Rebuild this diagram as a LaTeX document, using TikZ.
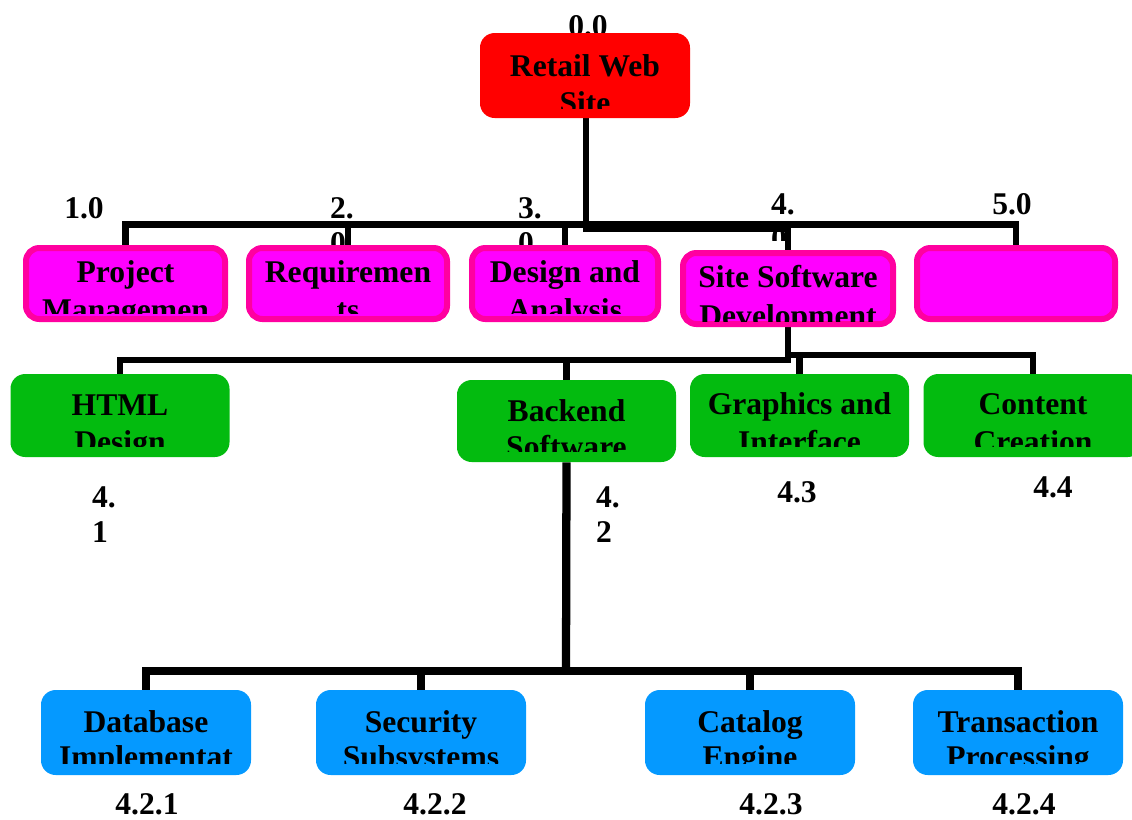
\documentclass[tikz,border=0pt]{standalone}
\usepackage{fontspec}
\setmainfont{Liberation Serif}
\usetikzlibrary{calc}

\definecolor{rootred}{RGB}{255,0,0}
\definecolor{wbsmagenta}{RGB}{255,0,255}
\definecolor{wbspink}{RGB}{255,0,160}
\definecolor{wbsgreen}{RGB}{3,187,15}
\definecolor{wbsblue}{RGB}{5,153,255}

\pgfdeclarelayer{numbers}
\pgfdeclarelayer{links}
\pgfsetlayers{numbers,links,main}

\newcommand{\wbspx}{0.75pt}
% box text (two lines), cut off above the bottom of the box
% [line skip]{box}{drop to last baseline}{cut above bottom}{text}
\newcommand{\boxtext}[5][26.25pt]{%
  \begin{scope}
    \clip (#2.north west) rectangle ($(#2.south east)+(0,-#4)$);
    \node[wbstext, font=\fontsize{23.7}{#1}\selectfont\bfseries]
      at ($(#2.north)+(0,#3)$) {#5};
  \end{scope}}

\begin{document}
\begin{tikzpicture}[x=0.75pt, y=-0.75pt,
    wbsfont/.style={font=\fontsize{23.7}{26.25}\selectfont\bfseries},
    wbstext/.style={wbsfont, align=center, anchor=base, inner sep=0pt},
    wbsnum/.style={wbsfont, align=left, anchor=base, inner sep=0pt},
    wbsbox/.style={inner sep=0pt, rounded corners=11pt},
    rootbox/.style={wbsbox, fill=rootred, minimum width=210*\wbspx, minimum height=85*\wbspx},
    lvlone/.style={wbsbox, rounded corners=10pt, fill=wbsmagenta, draw=wbspink, line width=4.5pt, minimum height=71*\wbspx},
    lvltwo/.style={wbsbox, fill=wbsgreen, minimum width=219*\wbspx},
    lvlthree/.style={wbsbox, fill=wbsblue, minimum width=210*\wbspx, minimum height=85*\wbspx},
    link/.style={line width=4.7pt, black}]
  \useasboundingbox (0,0) rectangle (1132,819);

  % Top box
  \node[rootbox] (root) at (585,75.5) {};
  \boxtext[27.75pt]{root}{81}{10}{Retail Web\\Site}

  % Level 1
  \node[lvlone, minimum width=199*\wbspx] (pm) at (125.5,283.5) {};
  \node[lvlone, minimum width=198*\wbspx] (req) at (348,283.5) {};
  \node[lvlone, minimum width=186*\wbspx] (des) at (565,283.5) {};
  \node[lvlone, minimum width=210*\wbspx] (ssd) at (788,288.5) {};
  \node[lvlone, minimum width=198*\wbspx] (emp) at (1016,283.5) {};
  \boxtext[28.5pt]{pm}{75}{9}{Project\\Managemen}
  \boxtext[28.5pt]{req}{75}{9}{Requiremen\\ts}
  \boxtext[28.5pt]{des}{75}{9}{Design and\\Analysis}
  \boxtext[29.25pt]{ssd}{76}{6}{Site Software\\Development}

  % Level 2
  \node[lvltwo, minimum height=83*\wbspx] (html) at (120,415.5) {};
  \node[lvltwo, minimum height=82*\wbspx] (back) at (566.5,421) {};
  \node[lvltwo, minimum height=83*\wbspx] (gfx) at (799.5,415.5) {};
  \node[lvltwo, minimum height=83*\wbspx] (cont) at (1033,415.5) {};
  \boxtext[27.75pt]{html}{79}{11}{HTML\\Design}
  \boxtext[27pt]{back}{78}{11}{Backend\\Software}
  \boxtext[28.5pt]{gfx}{79}{11}{Graphics and\\Interface}
  \boxtext[28.5pt]{cont}{79}{11}{Content\\Creation}

  % Level 3
  \node[lvlthree] (db) at (146,732.5) {};
  \node[lvlthree] (sec) at (421,732.5) {};
  \node[lvlthree] (cat) at (750,732.5) {};
  \node[lvlthree] (trn) at (1018,732.5) {};
  \boxtext{db}{78}{12}{Database\\Implementat}
  \boxtext{sec}{78}{12}{Security\\Subsystems}
  \boxtext{cat}{78}{12}{Catalog\\Engine}
  \boxtext{trn}{78}{12}{Transaction\\Processing}

  % Numbers, behind the boxes
  \begin{pgfonlayer}{numbers}
    \node[wbsnum] (n00) at (588,36) {0.0};
    \node[wbsnum] (n10) at (84,218) {1.0};
    \node[wbsnum] (n20) at (342,253) {2.\\0};
    \node[wbsnum] (n30) at (530,253) {3.\\0};
    \begin{scope}
      \clip (740,180) rectangle (830,240);
      \node[wbsnum] (n40) at (783,249) {4.\\0};
    \end{scope}
    \node[wbsnum] (n50) at (1012,214) {5.0};
    \node[wbsnum] (n41) at (104,542) {4.\\1};
    \node[wbsnum] (n42) at (608,542) {4.\\2};
    \node[wbsnum] (n43) at (797,502) {4.3};
    \node[wbsnum] (n44) at (1053,497) {4.4};
    \node[wbsnum] (n421) at (147,814) {4.2.1};
    \node[wbsnum] (n422) at (435,814) {4.2.2};
    \node[wbsnum] (n423) at (771,814) {4.2.3};
    \node[wbsnum] (n424) at (1024,814) {4.2.4};
  \end{pgfonlayer}

  % Connectors
  \begin{pgfonlayer}{links}
    \coordinate (topbar) at (586,224.5);
    \coordinate (ssdbar) at (586,229);
    \draw[link] (root.south -| ssdbar) -- (ssdbar) -| (ssd.north);
    \draw[link] (pm.north) |- (topbar) -| (emp.north);
    \draw[link] (req.north) -- (req.north |- topbar);
    \draw[link] (des.north) -- (des.north |- topbar);

    \coordinate (leftbar) at (788,360);
    \coordinate (rightbar) at (788,355);
    \draw[link] (ssd.south) -- (leftbar) -| (html.north);
    \draw[link] (back.north) -- (back.north |- leftbar);
    \draw[link] (rightbar) -| (cont.north);
    \draw[link] (gfx.north) -- (gfx.north |- rightbar);

    \coordinate (lowbar) at (566,671);
    \draw[link, line width=6.2pt] (back.south) -- (lowbar);
    \draw[link, line width=6.2pt] (db.north) |- (lowbar) -| (trn.north);
    \draw[link, line width=6.2pt] (sec.north) -- (sec.north |- lowbar);
    \draw[link, line width=6.2pt] (cat.north) -- (cat.north |- lowbar);
  \end{pgfonlayer}
\end{tikzpicture}
\end{document}
